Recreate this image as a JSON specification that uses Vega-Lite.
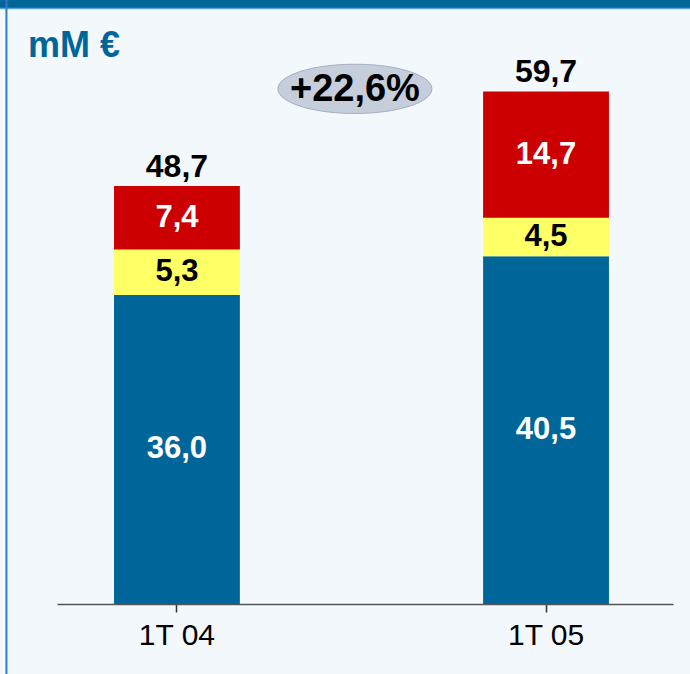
{
  "$schema": "https://vega.github.io/schema/vega-lite/v6.json",
  "width": 690,
  "height": 674,
  "autosize": "none",
  "padding": 0,
  "background": "#f2f8fc",
  "config": {
    "view": {"stroke": null},
    "locale": {"number": {"decimal": ",", "thousands": ".", "grouping": [3], "currency": ["", " €"]}}
  },
  "title": {
    "text": "mM €",
    "anchor": "start",
    "frame": "group",
    "offset": -68,
    "dx": 28,
    "fontSize": 36,
    "font": "Liberation Sans",
    "fontWeight": "bold",
    "color": "#006699"
  },
  "datasets": {
    "ventas": [
      {"periodo": "1T 04", "serie": 1, "valor": 36.0},
      {"periodo": "1T 04", "serie": 2, "valor": 5.3},
      {"periodo": "1T 04", "serie": 3, "valor": 7.4},
      {"periodo": "1T 05", "serie": 1, "valor": 40.5},
      {"periodo": "1T 05", "serie": 2, "valor": 4.5},
      {"periodo": "1T 05", "serie": 3, "valor": 14.7}
    ],
    "variacion": [{"texto": "+22,6%"}],
    "marco": [{"m": 1}]
  },
  "layer": [
    {
      "data": {"name": "ventas"},
      "mark": {"type": "bar"},
      "encoding": {
        "x": {
          "field": "periodo",
          "type": "nominal",
          "scale": {"range": [57, 673], "paddingInner": 0.659, "paddingOuter": 0.164, "align": 0.471},
          "axis": {
            "orient": "bottom",
            "offset": -70,
            "title": null,
            "labelAngle": 0,
            "domainColor": "#555555",
            "domainWidth": 1.5,
            "tickColor": "#333333",
            "tickWidth": 1.5,
            "tickSize": 8,
            "labelFontSize": 30,
            "labelFont": "Liberation Sans",
            "labelColor": "#000000",
            "labelPadding": 8,
            "grid": false
          }
        },
        "y": {
          "field": "valor",
          "type": "quantitative",
          "stack": "zero",
          "scale": {"domain": [0, 70], "range": [604, 3], "nice": false, "zero": true},
          "axis": null
        },
        "color": {
          "field": "serie",
          "type": "nominal",
          "scale": {"domain": [1, 2, 3], "range": ["#006699", "#ffff66", "#cc0000"]},
          "legend": null
        },
        "order": {"field": "serie", "sort": "ascending"}
      }
    },
    {
      "data": {"name": "ventas"},
      "transform": [
        {"stack": "valor", "groupby": ["periodo"], "sort": [{"field": "serie", "order": "ascending"}], "as": ["v0", "v1"]},
        {"calculate": "(datum.v0 + datum.v1) / 2", "as": "medio"}
      ],
      "mark": {"type": "text", "font": "Liberation Sans", "fontWeight": "bold", "fontSize": 31, "baseline": "middle", "align": "center"},
      "encoding": {
        "x": {"field": "periodo", "type": "nominal"},
        "y": {"field": "medio", "type": "quantitative"},
        "text": {"field": "valor", "type": "quantitative", "format": ".1f"},
        "color": {"condition": {"test": "datum.serie == 2", "value": "#000000"}, "value": "#ffffff"}
      }
    },
    {
      "data": {"name": "ventas"},
      "transform": [{"aggregate": [{"op": "sum", "field": "valor", "as": "total"}], "groupby": ["periodo"]}],
      "mark": {"type": "text", "font": "Liberation Sans", "fontWeight": "bold", "fontSize": 32, "baseline": "bottom", "align": "center", "dy": -2, "color": "#000000"},
      "encoding": {
        "x": {"field": "periodo", "type": "nominal"},
        "y": {"field": "total", "type": "quantitative"},
        "text": {"field": "total", "type": "quantitative", "format": ".1f"}
      }
    },
    {
      "data": {"name": "variacion"},
      "mark": {"type": "point", "filled": true, "shape": "M -1 0 A 1 0.32 0 1 0 1 0 A 1 0.32 0 1 0 -1 0 Z", "size": 23716, "color": "#8c94a6", "opacity": 1, "dx": 3, "dy": 3},
      "encoding": {
        "x": {"datum": "1T 04", "bandPosition": 1.914},
        "y": {"datum": 60}
      }
    },
    {
      "data": {"name": "variacion"},
      "mark": {"type": "point", "filled": true, "shape": "M -1 0 A 1 0.32 0 1 0 1 0 A 1 0.32 0 1 0 -1 0 Z", "size": 23716, "fill": "#c6cddb", "stroke": "#aab2c2", "strokeWidth": 1, "opacity": 1},
      "encoding": {
        "x": {"datum": "1T 04", "bandPosition": 1.914},
        "y": {"datum": 60}
      }
    },
    {
      "data": {"name": "variacion"},
      "mark": {"type": "text", "font": "Liberation Sans", "fontWeight": "bold", "fontSize": 38, "baseline": "middle", "align": "center", "color": "#000000", "dy": 1},
      "encoding": {
        "x": {"datum": "1T 04", "bandPosition": 1.914},
        "y": {"datum": 60},
        "text": {"field": "texto"}
      }
    },
    {
      "data": {"name": "marco"},
      "mark": {"type": "rule", "color": "#006699", "strokeWidth": 12},
      "encoding": {"y": {"datum": 70}}
    },
    {
      "data": {"name": "marco"},
      "mark": {"type": "rule", "color": "#5da3d6", "strokeWidth": 1.5},
      "encoding": {"y": {"datum": 69.35}}
    },
    {
      "data": {"name": "marco"},
      "mark": {"type": "rule", "color": "#2c7fbf", "strokeWidth": 2},
      "encoding": {"x": {"datum": "1T 04", "bandPosition": -0.8547}}
    }
  ]
}
